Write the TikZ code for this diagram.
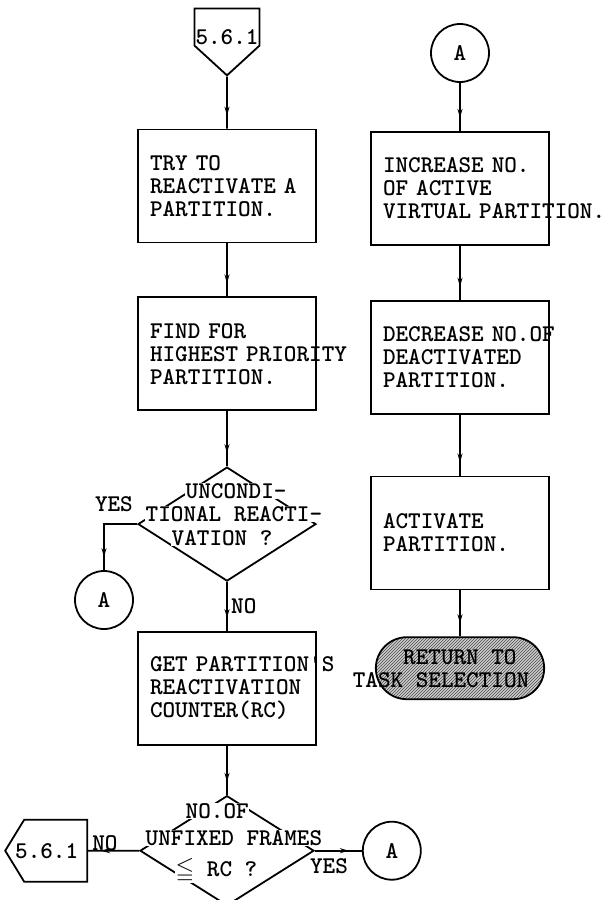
\documentclass[tikz,border=0pt]{standalone}
\usepackage{amssymb}
\usepackage{fontspec}
\usepackage{tikz}
\usetikzlibrary{positioning,shapes.geometric,shapes.misc,shapes.symbols,arrows.meta,decorations.markings,patterns}

\begin{document}
\begin{tikzpicture}[
  x=1pt, y=-1pt,
  every node/.style={font=\ttfamily\bfseries\fontsize{24}{23}\selectfont},
  proc/.style={rectangle, draw, line width=1.8pt, minimum height=113pt,
               text width=154pt, inner xsep=12pt, align=left},
  decision/.style={diamond, draw, line width=1.8pt, minimum width=178pt,
                   minimum height=114pt, inner sep=0pt},
  dtext/.style={fill=white, inner sep=0.5pt, anchor=west},
  conn/.style={circle, draw, line width=1.8pt, minimum size=58pt, inner sep=0pt},
  offpage/.style={signal, draw, line width=1.8pt, inner sep=0pt},
  term/.style={rounded rectangle, draw, line width=1.8pt, minimum width=175pt,
               minimum height=62pt, preaction={fill=gray!40},
               pattern=north east lines, pattern color=black!70},
  flow/.style={line width=1.8pt, postaction={decorate},
               decoration={markings, mark=at position -13pt with {\arrow{Stealth[length=9pt,width=5pt]}}}}
]
  \useasboundingbox (0,0) rectangle (612,900);

  % left column
  \node[proc] (try) at (227,186) {TRY TO\\REACTIVATE A\\PARTITION.};
  \node[offpage, signal to=south, signal pointer angle=95,
        minimum width=65pt, minimum height=66pt, above=52pt of try,
        label={[yshift=-10pt]center:5.6.1}] (off1) {\phantom{5.6.1}};
  \node[proc, below=53pt of try] (find) {FIND FOR\\HIGHEST~PRIORITY\\PARTITION.};
  \node[decision, below=55pt of find] (uncond) {};
  \node[proc, below=49pt of uncond] (getrc) {GET~PARTITION'S\\REACTIVATION\\COUNTER(RC)};
  \node[decision, minimum width=174pt, minimum height=110pt, below=49pt of getrc] (frames) {};
  \node[conn] (aleft) at (104,600) {A};
  \node[conn, right=47pt of frames] (aright) {A};
  \node[offpage, signal to=west, signal pointer angle=117,
        minimum width=69pt, minimum height=62pt, left=51pt of frames,
        label={[xshift=-9pt]center:5.6.1}] (back) {\phantom{5.6.1}};

  % right column
  \node[conn] (atop) at (460,53) {A};
  \node[proc, below=48pt of atop] (inc) {INCREASE NO.\\OF ACTIVE\\VIRTUAL~PARTITION.};
  \node[proc, below=54pt of inc] (dec) {DECREASE~NO.OF\\DEACTIVATED\\PARTITION.};
  \node[proc, below=61pt of dec] (act) {ACTIVATE\\PARTITION.};
  \node[term, below=46pt of act] (ret) {};
  \node[align=left] (rett) at ([xshift=-19pt]ret.center) {\phantom{TASK}RETURN TO\\TASK SELECTION};

  \draw[flow] (off1) -- (try);
  \draw[flow] (try) -- (find);
  \draw[flow] (find) -- (uncond);
  \draw[flow] (uncond) -- node[right] {NO} (getrc);
  \draw[flow] (uncond.west) -| node[pos=.35, above=8pt] {YES} (aleft);
  \draw[flow] (getrc) -- (frames);
  \draw[flow] (frames.west) -- node[pos=.67, above=-4pt] {NO} (back);
  \draw[flow] (frames.east) -- node[pos=.3, below=4pt] {YES} (aright);

  \draw[flow] (atop) -- (inc);
  \draw[flow] (inc) -- (dec);
  \draw[flow] (dec) -- (act);
  \draw[flow] (act) -- (ret);

  % text written across the diamonds
  \node[dtext] (uncond1) at (185,491) {UNCONDI-};
  \node[dtext] (uncond2) at (145,514) {TIONAL REACTI-};
  \node[dtext] (uncond3) at (171,538) {VATION ?};
  \node[dtext] (frames1) at (185,811) {NO.OF};
  \node[dtext] (frames2) at (145,838) {UNFIXED FRAMES};
  \node[dtext] (frames3) at (175,870) {$\leqq$ RC ?};
\end{tikzpicture}
\end{document}
